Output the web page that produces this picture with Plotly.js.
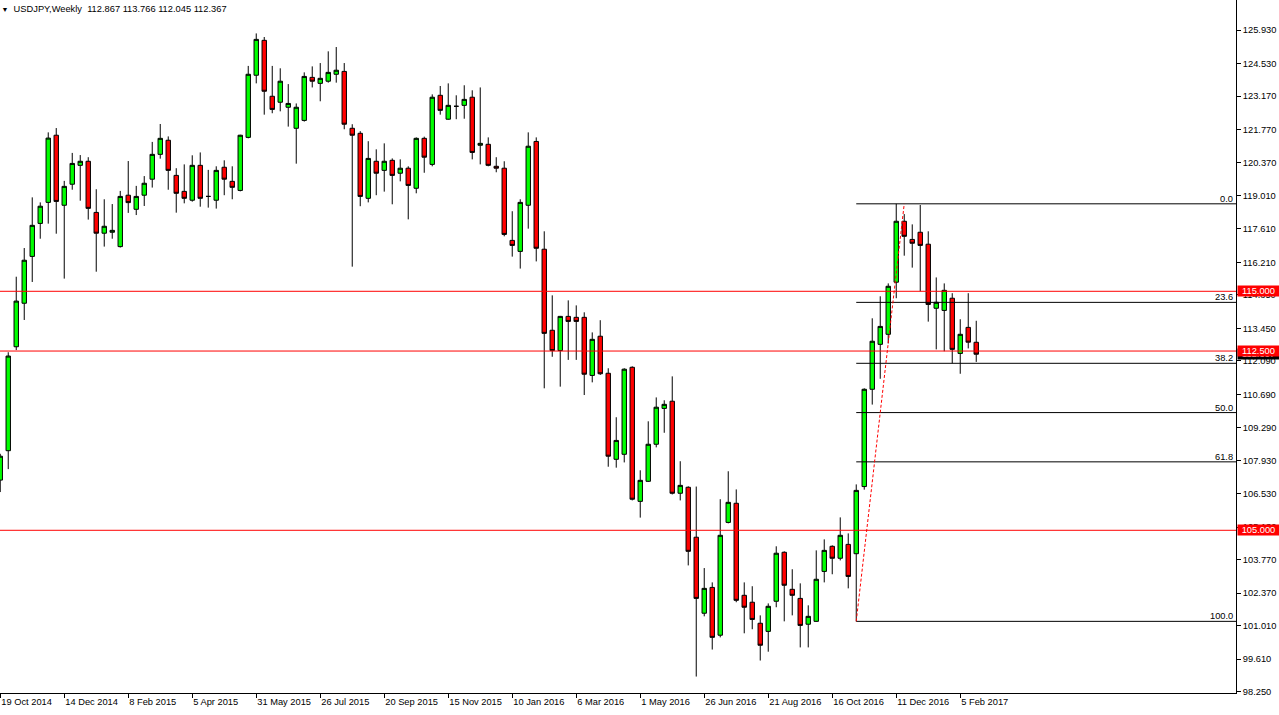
<!DOCTYPE html>
<html><head><meta charset="utf-8">
<script src="https://cdn.plot.ly/plotly-3.0.1.min.js"></script>
<style>html,body{margin:0;padding:0;background:#fff;overflow:hidden}</style>
</head><body>
<div id="chart" style="width:1279px;height:715px"></div>
<script>
const symbolName = 'USDJPY,Weekly';
const weeks = [
'2014-10-19','2014-10-26','2014-11-02','2014-11-09','2014-11-16','2014-11-23','2014-11-30','2014-12-07','2014-12-14','2014-12-21','2014-12-28',
'2015-01-04','2015-01-11','2015-01-18','2015-01-25','2015-02-01','2015-02-08','2015-02-15','2015-02-22','2015-03-01','2015-03-08','2015-03-15','2015-03-22','2015-03-29',
'2015-04-05','2015-04-12','2015-04-19','2015-04-26','2015-05-03','2015-05-10','2015-05-17','2015-05-24','2015-05-31','2015-06-07','2015-06-14','2015-06-21','2015-06-28',
'2015-07-05','2015-07-12','2015-07-19','2015-07-26','2015-08-02','2015-08-09','2015-08-16','2015-08-23','2015-08-30','2015-09-06','2015-09-13','2015-09-20','2015-09-27',
'2015-10-04','2015-10-11','2015-10-18','2015-10-25','2015-11-01','2015-11-08','2015-11-15','2015-11-22','2015-11-29','2015-12-06','2015-12-13','2015-12-20','2015-12-27',
'2016-01-03','2016-01-10','2016-01-17','2016-01-24','2016-01-31','2016-02-07','2016-02-14','2016-02-21','2016-02-28','2016-03-06','2016-03-13','2016-03-20','2016-03-27',
'2016-04-03','2016-04-10','2016-04-17','2016-04-24','2016-05-01','2016-05-08','2016-05-15','2016-05-22','2016-05-29','2016-06-05','2016-06-12','2016-06-19','2016-06-26',
'2016-07-03','2016-07-10','2016-07-17','2016-07-24','2016-07-31','2016-08-07','2016-08-14','2016-08-21','2016-08-28','2016-09-04','2016-09-11','2016-09-18','2016-09-25',
'2016-10-02','2016-10-09','2016-10-16','2016-10-23','2016-10-30','2016-11-06','2016-11-13','2016-11-20','2016-11-27','2016-12-04','2016-12-11','2016-12-18','2016-12-25',
'2017-01-01','2017-01-08','2017-01-15','2017-01-22','2017-01-29','2017-02-05','2017-02-12','2017-02-19'
];
const openP = [
107.10,108.33,112.68,114.50,116.46,117.84,118.72,121.53,118.60,119.48,120.27,
120.44,118.30,117.43,117.47,116.87,119.02,118.43,119.02,119.69,120.73,121.32,119.85,119.18,
118.81,120.27,118.97,118.81,120.19,119.60,119.22,121.44,124.04,125.50,123.16,122.91,122.70,
121.82,122.15,123.95,123.70,123.79,124.08,124.20,121.82,121.61,118.89,120.44,120.06,120.48,
119.94,120.15,119.31,121.40,120.31,123.20,122.20,122.74,122.78,123.12,121.11,121.15,120.23,
120.15,117.13,116.67,118.60,121.27,116.76,113.37,112.52,113.95,113.91,113.91,111.48,113.12,
111.57,107.97,108.18,111.82,106.21,107.05,108.60,110.10,110.40,106.55,106.80,104.71,101.53,
102.61,100.61,105.33,106.13,102.28,101.99,101.11,100.77,102.03,104.08,102.53,102.15,101.07,
101.19,103.28,104.33,103.83,104.41,104.02,106.83,110.90,112.78,113.20,115.38,117.93,117.17,
117.47,116.97,114.29,114.20,114.71,112.40,113.49,112.867
];
const highP = [
108.20,112.45,115.61,116.81,118.93,118.72,121.65,121.83,119.62,120.79,120.70,
120.61,119.27,118.85,118.65,119.20,120.45,119.41,119.82,121.25,122.00,121.48,120.15,120.31,
120.69,120.81,120.08,120.23,120.48,120.23,121.55,124.43,125.79,125.64,124.43,124.33,123.67,
122.86,124.16,124.41,124.55,125.04,125.22,124.55,121.99,121.70,121.28,120.94,121.19,120.56,
120.52,120.23,121.44,121.47,123.24,123.59,123.70,123.20,123.62,123.41,123.53,121.44,120.61,
120.44,118.35,118.85,121.65,121.44,117.51,114.83,113.97,114.62,114.41,114.12,113.28,113.79,
111.78,109.73,111.78,111.86,107.51,109.56,110.56,110.44,111.44,107.89,106.84,106.83,103.42,
102.82,106.30,107.47,106.71,102.82,102.66,101.44,101.94,104.33,104.12,103.37,102.78,101.86,
104.16,104.62,104.37,105.54,104.87,106.92,110.94,113.87,114.79,115.33,118.66,118.23,117.80,
118.61,117.51,115.58,115.33,114.92,113.83,114.92,113.766
];
const lowP = [
106.60,107.56,112.54,113.80,115.39,117.20,117.83,117.41,115.53,119.25,118.79,
118.00,115.82,116.87,117.20,116.83,118.28,118.19,118.57,119.34,120.55,119.25,118.29,118.68,
118.75,118.54,118.50,118.46,119.02,118.85,119.18,121.40,123.70,122.39,122.45,122.53,121.89,
120.34,122.10,123.53,122.95,123.73,123.73,121.78,116.03,118.56,118.72,119.02,119.17,118.64,
119.60,118.01,119.10,119.96,120.23,122.39,122.18,122.20,122.22,120.52,120.31,120.23,119.98,
117.30,116.45,115.95,117.62,116.25,110.94,112.26,111.01,112.13,112.13,110.66,111.19,111.50,
107.66,107.62,107.84,106.25,105.53,107.02,108.47,109.08,106.50,106.25,103.53,98.88,101.40,
100.01,100.52,105.29,101.99,100.69,100.86,99.55,99.92,101.78,101.19,101.44,100.10,100.10,
101.17,102.82,103.16,103.74,102.57,101.19,106.70,110.26,111.34,112.82,114.71,116.49,115.99,
115.00,113.73,112.57,112.49,111.99,111.55,112.61,112.045
];
const closeP = [
108.10,112.29,114.59,116.30,117.76,118.56,121.41,118.76,119.39,120.35,120.44,
118.47,117.43,117.72,117.55,118.97,118.71,118.97,119.52,120.73,121.40,120.06,119.10,118.89,
120.27,118.89,118.97,120.06,119.69,119.35,121.53,124.08,125.54,123.37,122.61,123.79,122.86,
122.70,123.99,123.79,123.91,124.16,124.25,121.99,121.53,118.97,120.56,119.94,120.44,119.85,
120.15,119.43,121.40,120.61,123.12,122.57,122.78,122.74,123.03,120.81,121.19,120.27,120.15,
117.38,116.92,118.72,121.07,116.80,113.24,112.52,113.95,113.74,113.74,111.53,112.99,111.55,
108.10,108.76,111.74,106.30,107.09,108.60,110.15,110.27,106.55,106.88,104.12,102.15,102.57,
100.52,104.79,106.17,102.07,101.78,101.27,100.19,101.82,104.04,102.70,102.28,101.02,101.40,
102.95,104.16,103.83,104.79,103.07,106.67,110.90,112.91,113.53,115.21,117.93,117.30,117.01,
116.92,114.45,114.54,115.04,112.57,113.20,112.87,112.367
];
const xTickDates = ['2014-10-19','2014-12-14','2015-02-08','2015-04-05','2015-05-31','2015-07-26','2015-09-20','2015-11-15',
'2016-01-10','2016-03-06','2016-05-01','2016-06-26','2016-08-21','2016-10-16','2016-12-11','2017-02-05'];
const xTickText = ['19 Oct 2014','14 Dec 2014','8 Feb 2015','5 Apr 2015','31 May 2015','26 Jul 2015','20 Sep 2015','15 Nov 2015',
'10 Jan 2016','6 Mar 2016','1 May 2016','26 Jun 2016','21 Aug 2016','16 Oct 2016','11 Dec 2016','5 Feb 2017'];
const yTickVals = [98.25,99.61,101.01,102.37,103.77,105.13,106.53,107.93,109.29,110.69,112.09,113.45,114.85,116.21,117.61,119.01,120.37,121.77,123.17,124.53,125.93];
const levelLines = [115, 112.5, 105];
const fibLevels = [0, 23.6, 38.2, 50, 61.8, 100];
const fibLowDate = '2016-11-06';
const fibLow = 101.19;
const fibHighDate = '2016-12-18';
const fibHigh = 118.66;

// ---- layout geometry ----
const W = 1279, H = 715;
const plotRight = 1236, plotBottom = 693;
const pxPerWeek = 8;
const wk = 7 * 864e5;
const t0 = Date.parse(weeks[0]);
const xr0 = t0 - 0.03 * wk;
const xr1 = xr0 + plotRight / pxPerWeek * wk;
function iso(ms) { return new Date(ms).toISOString().replace('T', ' ').replace('Z', ''); }
const FONT = 'Liberation Sans, Arial, sans-serif';
const FS = 9.3;

const last = closeP.length - 1;
const titleText = '<span style="font-size:7px">▼</span>\u00a0\u00a0' + symbolName + '\u00a0\u00a0' +
  [openP[last], highP[last], lowP[last], closeP[last]].map(v => v.toFixed(3)).join(' ');

const shapes = [];
levelLines.forEach(v => shapes.push({type:'line', xref:'paper', yref:'y', x0:0, x1:1, y0:v, y1:v,
  line:{color:'#ff0000', width:1}, layer:'above'}));
const fibRange = fibHigh - fibLow;
fibLevels.forEach(l => {
  const p = fibHigh - l / 100 * fibRange;
  shapes.push({type:'line', xref:'x', yref:'y', x0:fibLowDate, x1:iso(xr1), y0:p, y1:p,
    line:{color:'#000000', width:1}, layer:'above'});
});
shapes.push({type:'line', xref:'x', yref:'y', x0:fibLowDate, y0:fibLow, x1:fibHighDate, y1:fibHigh,
  line:{color:'#ff0000', width:1, dash:'3px,2px'}, layer:'above'});

const annotations = [];
fibLevels.forEach(l => {
  const p = fibHigh - l / 100 * fibRange;
  annotations.push({xref:'paper', yref:'y', x:1, y:p, xanchor:'right', yanchor:'bottom', xshift:-1, yshift:-2,
    text:l.toFixed(1), showarrow:false, font:{family:FONT, size:FS, color:'#000'}});
});
function priceBox(v, bg) {
  return {xref:'paper', yref:'y', x:1, y:v, xanchor:'left', yanchor:'middle', xshift:1,
    text:v.toFixed(3), showarrow:false, bgcolor:bg, borderpad:0, width:41, height:10, align:'center',
    font:{family:FONT, size:FS, color:'#ffffff'}};
}
annotations.push(priceBox(closeP[last], '#000000'));
levelLines.forEach(v => annotations.push(priceBox(v, '#ff0000')));

const trace = {
  type:'candlestick', x:weeks, open:openP, high:highP, low:lowP, close:closeP,
  increasing:{line:{color:'#000000', width:1}, fillcolor:'#00ff00'},
  decreasing:{line:{color:'#000000', width:1}, fillcolor:'#ff0000'},
  whiskerwidth:0, hoverinfo:'skip', showlegend:false
};

const layout = {
  width:W, height:H,
  margin:{l:0, r:W - plotRight, t:0, b:H - plotBottom, pad:0},
  paper_bgcolor:'#ffffff', plot_bgcolor:'#ffffff',
  showlegend:false,
  boxgap:0.45, boxgroupgap:0,
  font:{family:FONT, size:FS, color:'#000000'},
  title:{text:titleText, xref:'container', yref:'container', x:1.5 / W, xanchor:'left',
    y:1 - 8.5 / H, yanchor:'middle', font:{family:FONT, size:FS, color:'#000000'}},
  xaxis:{type:'date', range:[iso(xr0), iso(xr1)], rangeslider:{visible:false},
    showgrid:false, zeroline:false, showline:true, linecolor:'#000', linewidth:1,
    ticks:'outside', ticklen:4, tickcolor:'#000', tickwidth:1,
    tickmode:'array', tickvals:xTickDates, ticktext:xTickText, ticklabelposition:'outside right',
    automargin:false, fixedrange:true},
  yaxis:{side:'right', range:[98.192, 127.188], showgrid:false, zeroline:false,
    showline:true, linecolor:'#000', linewidth:1, ticks:'outside', ticklen:4, tickcolor:'#000', tickwidth:1,
    tickmode:'array', tickvals:yTickVals, tickformat:'.3f', automargin:false, fixedrange:true},
  shapes:shapes, annotations:annotations
};

Plotly.newPlot('chart', [trace], layout, {staticPlot:true, displayModeBar:false});
</script>
</body></html>
